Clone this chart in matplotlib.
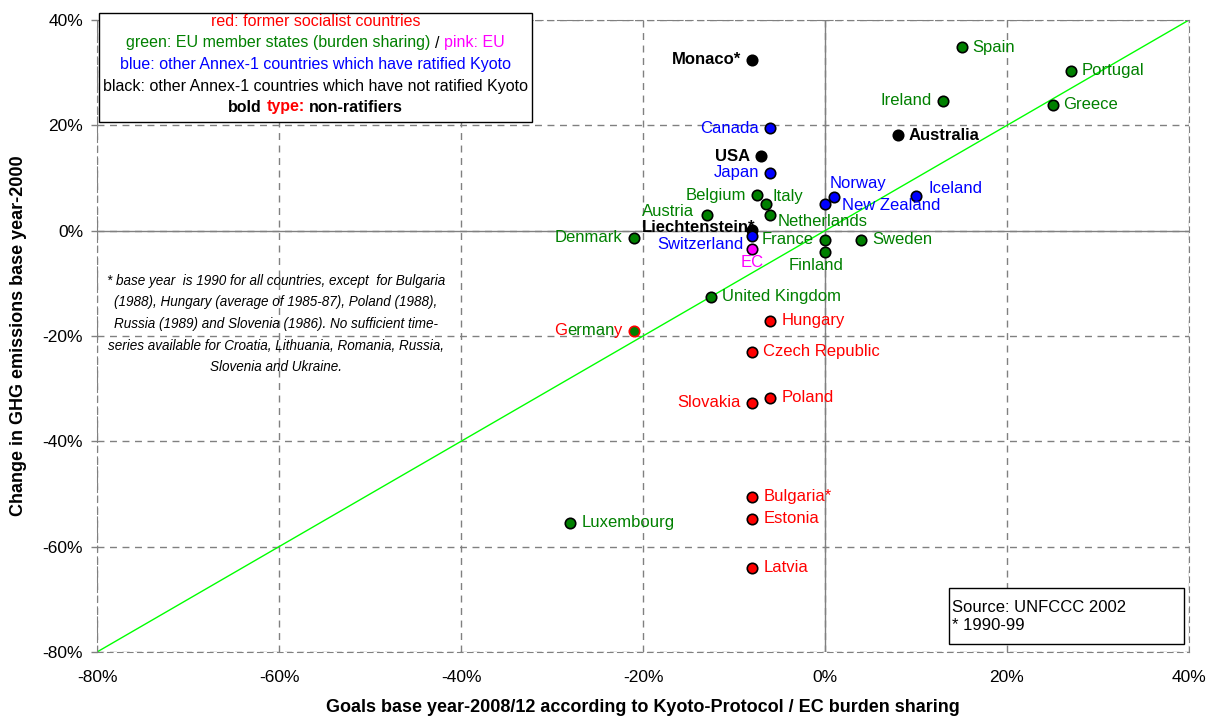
import matplotlib
matplotlib.use("Agg")
from matplotlib import pyplot as plt
from matplotlib.patches import Rectangle
from matplotlib.ticker import FuncFormatter

plt.rcParams['font.family'] = ['Liberation Sans', 'DejaVu Sans']

# Kyoto goal (x) vs. actual change base year-2000 (y), in %
countries = ["Monaco*", "Spain", "Portugal", "Ireland", "Greece", "Canada", "Australia", "USA",
             "Japan", "Belgium", "Italy", "Austria", "Netherlands", "Liechtenstein*", "Switzerland",
             "EC", "Denmark", "Norway", "New Zealand", "Iceland", "France", "Finland", "Sweden",
             "United Kingdom", "Germany", "Hungary", "Czech Republic", "Poland", "Slovakia",
             "Bulgaria*", "Estonia", "Latvia", "Luxembourg"]
goals = [-8, 15, 27, 13, 25, -6, 8, -7,
         -6, -7.5, -6.5, -13, -6, -8, -8,
         -8, -21, 1, 0, 10, 0, 0, 4,
         -12.5, -21, -6, -8, -6, -8,
         -8, -8, -8, -28]
changes = [32.5, 34.8, 30.4, 24.7, 23.9, 19.4, 18.1, 14.1,
           11.0, 6.7, 5.1, 2.9, 2.9, 0.1, -1.1,
           -3.4, -1.3, 6.3, 5.1, 6.6, -1.7, -4.0, -1.7,
           -12.5, -19.0, -17.1, -23.0, -31.7, -32.7,
           -50.5, -54.7, -64.0, -55.5]
groups = ["nonrat", "eu", "eu", "eu", "eu", "annex", "nonrat", "nonrat",
          "annex", "eu", "eu", "eu", "eu", "nonrat", "annex",
          "ec", "eu", "annex", "annex", "annex", "eu", "eu", "eu",
          "eu", "eu", "soc", "soc", "soc", "soc",
          "soc", "soc", "soc", "eu"]
non_ratifiers = ["Monaco*", "Australia", "USA", "Liechtenstein*"]

ticks = [-80, -60, -40, -20, 0, 20, 40]
diag = [-80, 40]

colors = {"eu": "#008000", "soc": "#ff0000", "annex": "#0000ff", "nonrat": "black", "ec": "#ff00ff"}

# label placement: (dx pt, dy pt, ha)
R = (8, 0, "left")
L = (-8, 0, "right")
place = {"Monaco*": L, "Ireland": L, "Canada": L, "USA": L, "Japan": L, "Belgium": L,
         "Italy": (5, 5, "left"), "Austria": (-9, 3, "right"), "Netherlands": (5, -4.5, "left"),
         "Liechtenstein*": (2, 2, "right"), "Switzerland": (-6.5, -6, "right"),
         "EC": (0, -10, "center"), "Denmark": L, "Norway": (-3.5, 10, "left"),
         "New Zealand": (12, -1.5, "left"), "Iceland": (9, 5, "left"), "France": L,
         "Finland": (-6.5, -10, "center"), "Germany": L, "Slovakia": L}

W, H = 1216, 717
fig = plt.figure(figsize=(W / 100, H / 100), dpi=100)
ax = fig.add_axes([97 / W, 1 - 652 / H, (1189 - 97) / W, (652 - 20) / H])
renderer = fig.canvas.get_renderer()

ax.set_xlim(-80, 40)
ax.set_ylim(-80, 40)
ax.set_xticks(ticks)
ax.set_yticks(ticks)
pct = FuncFormatter(lambda v, p: f"{v:.0f}%")
ax.xaxis.set_major_formatter(pct)
ax.yaxis.set_major_formatter(pct)
ax.tick_params(axis="x", length=0, pad=13, labelsize=12.5)
ax.tick_params(axis="y", length=4, width=1, color="#808080", pad=6, labelsize=12.5)
ax.grid(True, color="#808080", linestyle=(0, (5, 4)), linewidth=1)
for s in ax.spines.values():
    s.set_color("#808080")
    s.set_linestyle((0, (5, 4)))
ax.axhline(0, color="#808080", lw=1, zorder=1)
ax.axvline(0, color="#808080", lw=1, zorder=1)
ax.plot(diag, diag, color="#00ff00", lw=1, zorder=2)

for name, x, y, g in zip(countries, goals, changes, groups):
    edge = "#ff0000" if name == "Germany" else "black"
    ax.plot(x, y, "o", ms=7.5, mfc=colors[g], mec=edge, mew=1.2, zorder=3)


def width_px(s, **kw):
    t = fig.text(0, 0, s, **kw)
    w = t.get_window_extent(renderer).width
    t.remove()
    return w


def label(x, y, parts, dx, dy, ha, **kw):
    ws = [width_px(s, fontsize=12, **kw) for s, c in parts]
    total = sum(ws) * 72 / 100
    start = dx - {"left": 0, "right": total, "center": total / 2}[ha]
    for (s, c), w in zip(parts, ws):
        ax.annotate(s, (x, y), xytext=(start, dy), textcoords="offset points",
                    ha="left", va="center", color=c, fontsize=12, zorder=4, **kw)
        start += w * 72 / 100


for name, x, y, g in zip(countries, goals, changes, groups):
    dx, dy, ha = place.get(name, R)
    weight = "bold" if name in non_ratifiers else "normal"
    if name == "Germany":
        parts = [("G", "#ff0000"), ("erman", "#008000"), ("y", "#ff0000")]
    else:
        parts = [(name, colors[g])]
    label(x, y, parts, dx, dy, ha, fontweight=weight)

ax.set_xlabel("Goals base year-2008/12 according to Kyoto-Protocol / EC burden sharing",
              fontsize=13, fontweight="bold", va="center")
ax.xaxis.set_label_coords(0.5, (652 - 708) / 632)
ax.set_ylabel("Change in GHG emissions base year-2000", fontsize=13, fontweight="bold",
              va="center", ha="center")
ax.yaxis.set_label_coords((19 - 97) / 1092, 0.5)

# legend box
fig.add_artist(Rectangle((99 / W, 1 - 122 / H), (532 - 99) / W, (122 - 13) / H,
                         transform=fig.transFigure, fc="white", ec="black", lw=1, zorder=5))
gap = width_px("a a", fontsize=11.5) - width_px("aa", fontsize=11.5)
legend_lines = [
    [("red: former socialist countries", "#ff0000", "normal")],
    [("green: EU member states (burden sharing)", "#008000", "normal"), ("/", "black", "normal"),
     ("pink: EU", "#ff00ff", "normal")],
    [("blue: other Annex-1 countries which have ratified Kyoto", "#0000ff", "normal")],
    [("black: other Annex-1 countries which have not ratified Kyoto", "black", "normal")],
    [("bold", "black", "bold"), ("type:", "#ff0000", "bold"), ("non-ratifiers", "black", "bold")],
]
line_y = [22, 43, 64, 86, 107]
for parts, py in zip(legend_lines, line_y):
    ws = [width_px(s, fontsize=11.5, fontweight=wt) for s, c, wt in parts]
    total = sum(ws) + gap * (len(parts) - 1)
    px = 315.5 - total / 2
    for (s, c, wt), w in zip(parts, ws):
        fig.text(px / W, 1 - py / H, s, color=c, fontsize=11.5, fontweight=wt,
                 ha="left", va="center", zorder=6)
        px += w + gap

# footnote
fig.text(276 / W, 1 - 324 / H,
         "* base year  is 1990 for all countries, except  for Bulgaria\n"
         "(1988), Hungary (average of 1985-87), Poland (1988),\n"
         "Russia (1989) and Slovenia (1986). No sufficient time-\n"
         "series available for Croatia, Lithuania, Romania, Russia,\n"
         "Slovenia and Ukraine.",
         ha="center", va="center", fontsize=9.75, style="italic", linespacing=1.69, zorder=6)

# source box
fig.add_artist(Rectangle((949 / W, 1 - 644 / H), (1184 - 949) / W, (644 - 588) / H,
                         transform=fig.transFigure, fc="white", ec="black", lw=1, zorder=5))
fig.text(952 / W, 1 - 607 / H, "Source: UNFCCC 2002", fontsize=12, va="center", zorder=6)
fig.text(952 / W, 1 - 626 / H, "* 1990-99", fontsize=12, va="center", zorder=6)

fig.savefig("out.png", dpi=100)
